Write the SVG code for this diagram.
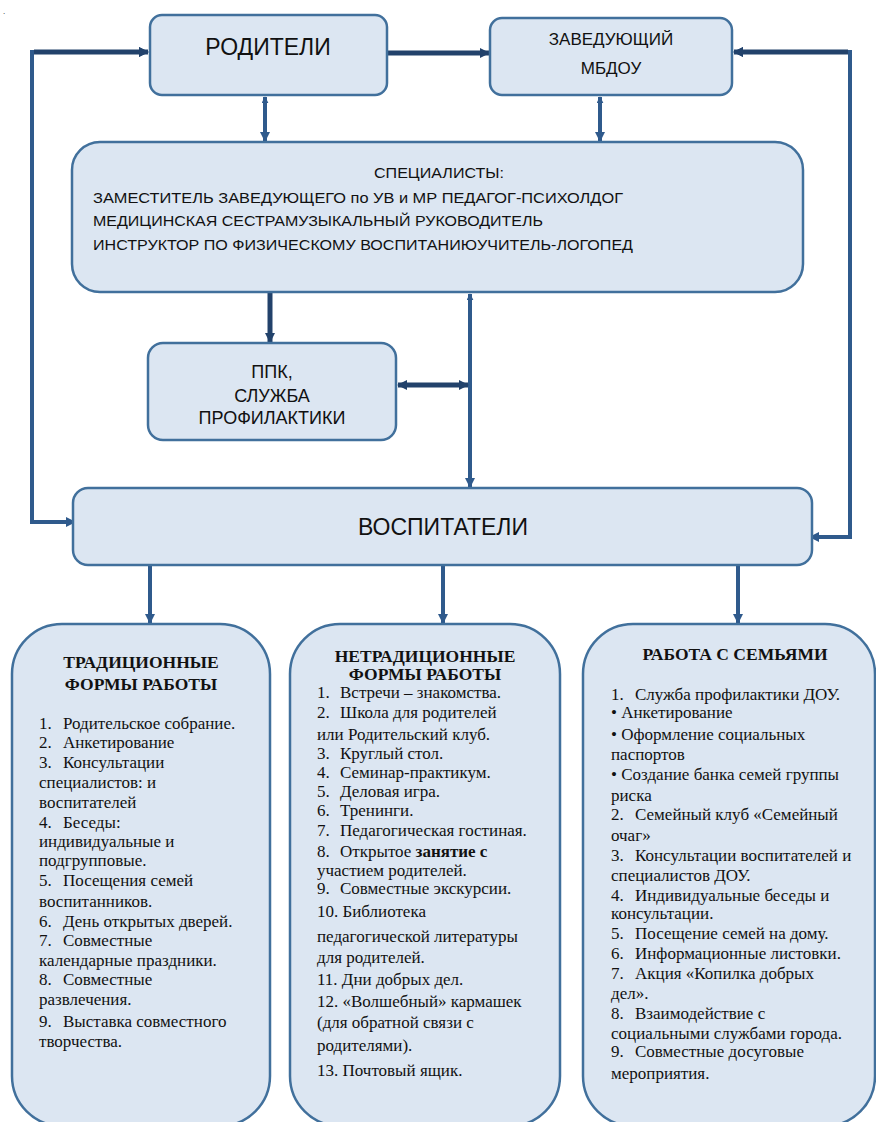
<svg xmlns="http://www.w3.org/2000/svg" width="876" height="1122" viewBox="0 0 876 1122">
<style>
.box{fill:#dce6f2;stroke:#41709c;stroke-width:2.5}
.sans{font-family:"Liberation Sans",Arial,sans-serif;fill:#111}
.serif{font-family:"Liberation Serif","Times New Roman",serif;font-size:17px;fill:#111}
.ttl{font-weight:bold;text-anchor:middle;font-size:17.5px}
.c{fill:none;stroke:#2f5a8c;stroke-width:4}
.cd{fill:none;stroke:#22426b;stroke-width:5}
</style>
<defs>
<marker id="ah" viewBox="0 0 10 10" refX="9" refY="5" markerWidth="10" markerHeight="10" markerUnits="userSpaceOnUse" orient="auto-start-reverse">
<path d="M0,0 L10,5 L0,10 z" fill="#2f5a8c"/>
</marker>
<marker id="ahs" viewBox="0 0 10 10" refX="9" refY="5" markerWidth="7" markerHeight="7" markerUnits="userSpaceOnUse" orient="auto-start-reverse">
<path d="M0,0 L10,5 L0,10 z" fill="#2f5a8c"/>
</marker>
<marker id="ahd" viewBox="0 0 10 10" refX="9" refY="5" markerWidth="10" markerHeight="11" markerUnits="userSpaceOnUse" orient="auto-start-reverse">
<path d="M0,0 L10,5 L0,10 z" fill="#22426b"/>
</marker>
</defs>
<rect width="876" height="1122" fill="#fff"/>
<text x="3" y="14" class="sans" font-size="8">.</text>

<g id="connectors">
<path class="c" d="M75,522 H32 V52 H148" marker-start="url(#ah)" marker-end="url(#ah)"/>
<path class="cd" d="M34,52 H148" marker-end="url(#ahd)"/>
<path class="c" d="M810,537 H850 V52 H734" marker-start="url(#ah)" marker-end="url(#ah)"/>
<path class="cd" d="M848,52 H734" marker-end="url(#ahd)"/>
<path class="cd" d="M388,53 H489" marker-end="url(#ahd)"/>
<path class="c" d="M265,97 V141" marker-start="url(#ahs)" marker-end="url(#ah)"/>
<path class="c" d="M600,97 V141" marker-start="url(#ahs)" marker-end="url(#ah)"/>
<path class="cd" d="M270,293 V342" marker-end="url(#ahd)"/>
<path class="c" d="M470,294 V487" stroke-width="3.5" marker-start="url(#ahs)" marker-end="url(#ah)"/>
<path class="cd" d="M398,385 H468" marker-start="url(#ahd)" marker-end="url(#ahd)"/>
<path class="c" d="M150,566 V623" marker-end="url(#ah)"/>
<path class="c" d="M443,566 V623" marker-end="url(#ah)"/>
<path class="c" d="M738,566 V623" marker-end="url(#ah)"/>
</g>

<g id="roditeli">
<rect class="box" x="150" y="15" width="237" height="80" rx="12"/>
<text class="sans" x="268" y="55" font-size="23" text-anchor="middle">РОДИТЕЛИ</text>
</g>

<g id="zaveduyushchiy">
<rect class="box" x="490" y="18" width="242" height="77" rx="12"/>
<text class="sans" x="611" y="45" font-size="17" text-anchor="middle">ЗАВЕДУЮЩИЙ</text>
<text class="sans" x="611" y="74" font-size="17" text-anchor="middle">МБДОУ</text>
</g>

<g id="specialisty">
<rect class="box" x="72" y="142" width="731" height="150" rx="28"/>
<text class="sans" x="439" y="178" font-size="15" text-anchor="middle" textLength="130" lengthAdjust="spacingAndGlyphs">СПЕЦИАЛИСТЫ:</text>
<text class="sans" x="93" y="203" font-size="15" textLength="530" lengthAdjust="spacingAndGlyphs">ЗАМЕСТИТЕЛЬ ЗАВЕДУЮЩЕГО по УВ и МР ПЕДАГОГ-ПСИХОЛДОГ</text>
<text class="sans" x="93" y="226" font-size="15" textLength="450" lengthAdjust="spacingAndGlyphs">МЕДИЦИНСКАЯ СЕСТРАМУЗЫКАЛЬНЫЙ РУКОВОДИТЕЛЬ</text>
<text class="sans" x="93" y="250" font-size="15" textLength="540" lengthAdjust="spacingAndGlyphs">ИНСТРУКТОР ПО ФИЗИЧЕСКОМУ ВОСПИТАНИЮУЧИТЕЛЬ-ЛОГОПЕД</text>
</g>

<g id="ppk">
<rect class="box" x="148" y="343" width="248" height="97" rx="15"/>
<text class="sans" x="272" y="378" font-size="18" text-anchor="middle">ППК,</text>
<text class="sans" x="272" y="402" font-size="18" text-anchor="middle">СЛУЖБА</text>
<text class="sans" x="272" y="424" font-size="18" text-anchor="middle">ПРОФИЛАКТИКИ</text>
</g>

<g id="vospitateli">
<rect class="box" x="73" y="488" width="739" height="77" rx="15"/>
<text class="sans" x="443" y="535" font-size="23" text-anchor="middle">ВОСПИТАТЕЛИ</text>
</g>

<g id="traditsionnye">
<rect class="box" x="12" y="624" width="258" height="502" rx="50"/>
<text class="serif ttl" x="141" y="668">ТРАДИЦИОННЫЕ</text>
<text class="serif ttl" x="141" y="690">ФОРМЫ РАБОТЫ</text>
<text class="serif" x="39" y="729">1.<tspan x="63">Родительское собрание.</tspan></text>
<text class="serif" x="39" y="748">2.<tspan x="63">Анкетирование</tspan></text>
<text class="serif" x="39" y="768">3.<tspan x="63">Консультации</tspan></text>
<text class="serif" x="39" y="788">специалистов: и</text>
<text class="serif" x="39" y="808">воспитателей</text>
<text class="serif" x="39" y="828">4.<tspan x="63">Беседы:</tspan></text>
<text class="serif" x="39" y="847">индивидуальные и</text>
<text class="serif" x="39" y="866">подгрупповые.</text>
<text class="serif" x="39" y="886">5.<tspan x="63">Посещения семей</tspan></text>
<text class="serif" x="39" y="907">воспитанников.</text>
<text class="serif" x="39" y="927">6.<tspan x="63">День открытых дверей.</tspan></text>
<text class="serif" x="39" y="946">7.<tspan x="63">Совместные</tspan></text>
<text class="serif" x="39" y="966">календарные праздники.</text>
<text class="serif" x="39" y="985">8.<tspan x="63">Совместные</tspan></text>
<text class="serif" x="39" y="1005">развлечения.</text>
<text class="serif" x="39" y="1027">9.<tspan x="63">Выставка совместного</tspan></text>
<text class="serif" x="39" y="1047">творчества.</text>
</g>

<g id="netraditsionnye">
<rect class="box" x="290" y="624" width="270" height="502" rx="50"/>
<text class="serif ttl" x="425" y="662">НЕТРАДИЦИОННЫЕ</text>
<text class="serif ttl" x="425" y="680">ФОРМЫ РАБОТЫ</text>
<text class="serif" x="317" y="698">1.<tspan x="340">Встречи – знакомства.</tspan></text>
<text class="serif" x="317" y="718">2.<tspan x="340">Школа для родителей</tspan></text>
<text class="serif" x="317" y="740">или Родительский клуб.</text>
<text class="serif" x="317" y="759">3.<tspan x="340">Круглый стол.</tspan></text>
<text class="serif" x="317" y="778">4.<tspan x="340">Семинар-практикум.</tspan></text>
<text class="serif" x="317" y="797">5.<tspan x="340">Деловая игра.</tspan></text>
<text class="serif" x="317" y="816">6.<tspan x="340">Тренинги.</tspan></text>
<text class="serif" x="317" y="836">7.<tspan x="340">Педагогическая гостиная.</tspan></text>
<text class="serif" x="317" y="857">8.<tspan x="340">Открытое </tspan><tspan font-weight="bold">занятие с</tspan></text>
<text class="serif" x="317" y="876">участием родителей.</text>
<text class="serif" x="317" y="894">9.<tspan x="340">Совместные экскурсии.</tspan></text>
<text class="serif" x="317" y="917">10. Библиотека</text>
<text class="serif" x="317" y="942">педагогической литературы</text>
<text class="serif" x="317" y="963">для родителей.</text>
<text class="serif" x="317" y="985">11. Дни добрых дел.</text>
<text class="serif" x="317" y="1007">12. «Волшебный» кармашек</text>
<text class="serif" x="317" y="1028">(для обратной связи с</text>
<text class="serif" x="317" y="1051">родителями).</text>
<text class="serif" x="317" y="1076">13. Почтовый ящик.</text>
</g>

<g id="rabota-s-semyami">
<rect class="box" x="583" y="624" width="292" height="502" rx="50"/>
<text class="serif ttl" x="735" y="660">РАБОТА С СЕМЬЯМИ</text>
<text class="serif" x="611" y="700">1.<tspan x="635">Служба профилактики ДОУ.</tspan></text>
<text class="serif" x="611" y="718">• Анкетирование</text>
<text class="serif" x="611" y="740">• Оформление социальных</text>
<text class="serif" x="611" y="760">паспортов</text>
<text class="serif" x="611" y="780">• Создание банка семей группы</text>
<text class="serif" x="611" y="801">риска</text>
<text class="serif" x="611" y="820">2.<tspan x="635">Семейный клуб «Семейный</tspan></text>
<text class="serif" x="611" y="841">очаг»</text>
<text class="serif" x="611" y="861">3.<tspan x="635">Консультации воспитателей и</tspan></text>
<text class="serif" x="611" y="881">специалистов ДОУ.</text>
<text class="serif" x="611" y="901">4.<tspan x="635">Индивидуальные беседы и</tspan></text>
<text class="serif" x="611" y="919">консультации.</text>
<text class="serif" x="611" y="939">5.<tspan x="635">Посещение семей на дому.</tspan></text>
<text class="serif" x="611" y="959">6.<tspan x="635">Информационные листовки.</tspan></text>
<text class="serif" x="611" y="979">7.<tspan x="635">Акция «Копилка добрых</tspan></text>
<text class="serif" x="611" y="999">дел».</text>
<text class="serif" x="611" y="1019">8.<tspan x="635">Взаимодействие с</tspan></text>
<text class="serif" x="611" y="1039">социальными службами города.</text>
<text class="serif" x="611" y="1057">9.<tspan x="635">Совместные досуговые</tspan></text>
<text class="serif" x="611" y="1079">мероприятия.</text>
</g>
</svg>
